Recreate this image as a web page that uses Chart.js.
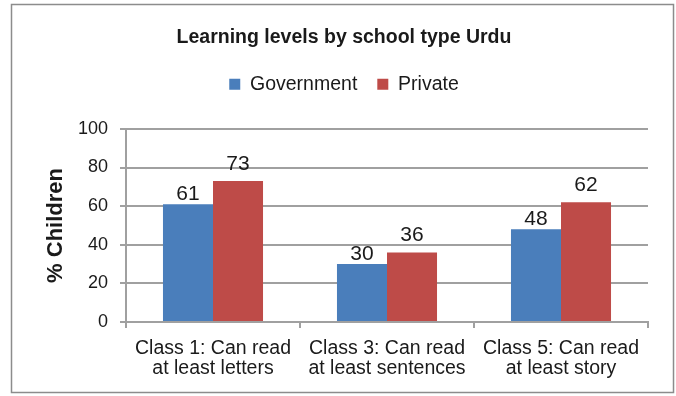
<!DOCTYPE html>
<html>
<head>
<meta charset="utf-8">
<script src="https://cdn.jsdelivr.net/npm/chart.js@4.4.0/dist/chart.umd.min.js"></script>
<style>
  body { margin: 0; background: #fff; }
  #wrap { width: 676px; height: 396px; }
</style>
</head>
<body>
<div id="wrap"><canvas id="myChart" width="676" height="396"></canvas></div>
<script>
const categories = [
  ['Class 1: Can read', 'at least letters'],
  ['Class 3: Can read', 'at least sentences'],
  ['Class 5: Can read', 'at least story']
]
const government = [61, 30, 48]
const privateSchools = [73, 36, 62]
const yTicks = [0, 20, 40, 60, 80, 100]

const FONT = 'Arial, "Liberation Sans", sans-serif'

// outer frame around the whole chart
const frame = {
  id: 'frame',
  beforeDraw(chart) {
    const c = chart.ctx
    c.save()
    c.fillStyle = '#fff'
    c.fillRect(0, 0, chart.width, chart.height)
    c.strokeStyle = '#8c8c8c'
    c.lineWidth = 1.5
    c.strokeRect(11.5, 4.5, 662, 388)
    c.restore()
  }
}

// extra room between legend and plot
const legendGap = {
  id: 'legendGap',
  beforeInit(chart) {
    const fit = chart.legend.fit
    chart.legend.fit = function () {
      fit.bind(chart.legend)()
      this.height += 25
    }
  }
}

// value written above each bar, private labels sit a bit higher
const barValues = {
  id: 'barValues',
  afterDatasetsDraw(chart, args, opts) {
    const c = chart.ctx
    c.save()
    c.font = '21px ' + FONT
    c.fillStyle = '#1a1a1a'
    c.textAlign = 'center'
    c.textBaseline = 'alphabetic'
    chart.data.datasets.forEach((ds, i) => {
      const lift = opts.lift[i]
      chart.getDatasetMeta(i).data.forEach((bar, j) => {
        c.fillText(ds.data[j], bar.x, bar.y - lift)
      })
    })
    c.restore()
  }
}

const ctx = document.getElementById('myChart')

new Chart(ctx, {
  type: 'bar',
  data: {
    labels: categories,
    datasets: [
      {
        label: 'Government',
        data: government,
        backgroundColor: '#4a7ebb',
        categoryPercentage: 0.575,
        barPercentage: 1
      },
      {
        label: 'Private',
        data: privateSchools,
        backgroundColor: '#be4b48',
        categoryPercentage: 0.575,
        barPercentage: 1
      }
    ]
  },
  options: {
    responsive: false,
    animation: false,
    layout: { padding: { top: 6, left: 40, right: 28, bottom: 8 } },
    plugins: {
      title: {
        display: true,
        text: 'Learning levels by school type Urdu',
        color: '#1a1a1a',
        font: { family: FONT, size: 19.5, weight: 'bold' },
        padding: { top: 20, bottom: 5 }
      },
      legend: {
        position: 'top',
        labels: {
          color: '#1a1a1a',
          font: { family: FONT, size: 19.5 },
          boxWidth: 11,
          boxHeight: 11,
          padding: 20
        }
      },
      barValues: { lift: [4, 11] },
      tooltip: { enabled: false }
    },
    scales: {
      x: {
        offset: true,
        grid: {
          offset: true,
          drawOnChartArea: false,
          color: '#a0a0a0',
          lineWidth: 2,
          tickLength: 6
        },
        border: { color: '#a0a0a0', width: 2 },
        ticks: {
          color: '#1a1a1a',
          font: { family: FONT, size: 19.5, lineHeight: 1.05 },
          maxRotation: 0,
          padding: 10
        },
        afterFit(scale) { scale.height = 66 }
      },
      y: {
        min: 0,
        max: 100,
        afterBuildTicks(scale) { scale.ticks = yTicks.map(v => ({ value: v })) },
        grid: { color: '#a0a0a0', lineWidth: 2, tickLength: 6 },
        border: { color: '#a0a0a0', width: 2 },
        ticks: {
          color: '#1a1a1a',
          font: { family: FONT, size: 18 },
          padding: 12
        },
        title: {
          display: true,
          text: '% Children',
          color: '#1a1a1a',
          font: { family: FONT, size: 22, weight: 'bold' },
          padding: { top: 3, bottom: 0 }
        },
        afterFit(scale) { scale.width = 86 }
      }
    }
  },
  plugins: [frame, legendGap, barValues]
})
</script>
</body>
</html>
